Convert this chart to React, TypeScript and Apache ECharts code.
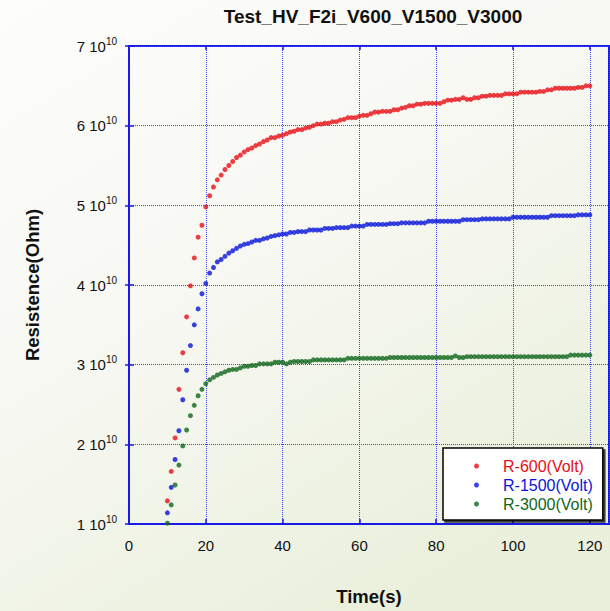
import React, { useEffect, useRef } from "react";
import * as echarts from "echarts";

const FONT = "'Liberation Sans', Arial, Helvetica, sans-serif";

const TITLE = "Test_HV_F2i_V600_V1500_V3000";
const X_NAME = "Time(s)";
const Y_NAME = "Resistence(Ohm)";
const SERIES_NAMES = ["R-600(Volt)", "R-1500(Volt)", "R-3000(Volt)"];
const SERIES_COLORS = ["#e60f16", "#0814d8", "#0f671c"];

// time in seconds
const TIME = [
  10, 11, 12, 13, 14, 15, 16, 17, 18, 19,
  20, 21, 22, 23, 24, 25, 26, 27, 28, 29,
  30, 31, 32, 33, 34, 35, 36, 37, 38, 39,
  40, 41, 42, 43, 44, 45, 46, 47, 48, 49,
  50, 51, 52, 53, 54, 55, 56, 57, 58, 59,
  60, 61, 62, 63, 64, 65, 66, 67, 68, 69,
  70, 71, 72, 73, 74, 75, 76, 77, 78, 79,
  80, 81, 82, 83, 84, 85, 86, 87, 88, 89,
  90, 91, 92, 93, 94, 95, 96, 97, 98, 99,
  100, 101, 102, 103, 104, 105, 106, 107, 108, 109, 110,
  111, 112, 113, 114, 115, 116, 117, 118, 119, 120,
];

// resistance in units of 1e10 Ohm
const R600 = [
  1.29, 1.66, 2.08, 2.69, 3.15, 3.60, 3.99, 4.34, 4.60, 4.75,
  4.98, 5.12, 5.23, 5.32, 5.38, 5.45, 5.50, 5.55, 5.60, 5.63,
  5.67, 5.70, 5.72, 5.75, 5.77, 5.80, 5.82, 5.85, 5.85, 5.87,
  5.88, 5.90, 5.92, 5.93, 5.95, 5.95, 5.97, 5.98, 6.00, 6.02,
  6.02, 6.03, 6.03, 6.05, 6.05, 6.07, 6.08, 6.10, 6.10, 6.10,
  6.12, 6.13, 6.13, 6.15, 6.17, 6.17, 6.18, 6.18, 6.18, 6.20,
  6.20, 6.22, 6.23, 6.25, 6.25, 6.27, 6.27, 6.28, 6.28, 6.28,
  6.28, 6.28, 6.30, 6.32, 6.32, 6.33, 6.33, 6.35, 6.33, 6.33,
  6.35, 6.35, 6.37, 6.37, 6.38, 6.38, 6.38, 6.38, 6.40, 6.40,
  6.40, 6.40, 6.42, 6.42, 6.42, 6.42, 6.42, 6.43, 6.43, 6.45,
  6.45, 6.47, 6.47, 6.47, 6.47, 6.47, 6.47, 6.48, 6.48, 6.50, 6.50,
];

const R1500 = [
  1.14, 1.46, 1.81, 2.17, 2.56, 2.93, 3.24, 3.50, 3.70, 3.89,
  4.02, 4.15, 4.22, 4.29, 4.32, 4.36, 4.40, 4.43, 4.46, 4.49,
  4.51, 4.52, 4.54, 4.56, 4.56, 4.58, 4.59, 4.61, 4.62, 4.63,
  4.64, 4.64, 4.66, 4.66, 4.67, 4.67, 4.67, 4.69, 4.69, 4.69,
  4.69, 4.71, 4.71, 4.71, 4.72, 4.72, 4.72, 4.72, 4.74, 4.74,
  4.74, 4.74, 4.76, 4.76, 4.76, 4.76, 4.76, 4.76, 4.77, 4.77,
  4.77, 4.78, 4.78, 4.78, 4.78, 4.78, 4.78, 4.78, 4.80, 4.80,
  4.80, 4.80, 4.80, 4.80, 4.80, 4.80, 4.80, 4.82, 4.82, 4.82,
  4.82, 4.82, 4.83, 4.83, 4.83, 4.83, 4.83, 4.83, 4.83, 4.83,
  4.85, 4.85, 4.85, 4.85, 4.85, 4.85, 4.85, 4.85, 4.85, 4.85,
  4.87, 4.87, 4.87, 4.87, 4.87, 4.87, 4.87, 4.88, 4.88, 4.88, 4.88,
];

const R3000 = [
  1.01, 1.24, 1.49, 1.74, 1.98, 2.18, 2.36, 2.49, 2.61, 2.69,
  2.76, 2.81, 2.84, 2.87, 2.89, 2.91, 2.93, 2.94, 2.94, 2.96,
  2.98, 2.98, 2.99, 2.99, 3.01, 3.01, 3.01, 3.01, 3.03, 3.03,
  3.03, 3.01, 3.03, 3.04, 3.04, 3.04, 3.04, 3.04, 3.06, 3.06,
  3.06, 3.06, 3.06, 3.06, 3.06, 3.06, 3.06, 3.08, 3.08, 3.08,
  3.08, 3.08, 3.08, 3.08, 3.08, 3.08, 3.08, 3.08, 3.09, 3.09,
  3.09, 3.09, 3.09, 3.09, 3.09, 3.09, 3.09, 3.09, 3.09, 3.09,
  3.09, 3.09, 3.09, 3.09, 3.09, 3.11, 3.09, 3.09, 3.10, 3.10,
  3.10, 3.10, 3.10, 3.10, 3.10, 3.10, 3.10, 3.10, 3.10, 3.10,
  3.10, 3.10, 3.10, 3.10, 3.10, 3.10, 3.10, 3.10, 3.10, 3.10,
  3.10, 3.10, 3.10, 3.10, 3.10, 3.12, 3.12, 3.12, 3.12, 3.12, 3.12,
];

const SERIES_VALUES = [R600, R1500, R3000];

const X_MIN = 0;
const X_MAX = 125;
const X_STEP = 20;
const Y_MIN = 1;
const Y_MAX = 7;
const Y_STEP = 1;

const AXIS_BLUE = "#1a1ae6";
const GRID_BLUE = "#3a46f0";

export default function App() {
  const ref = useRef<HTMLDivElement>(null);

  useEffect(() => {
    if (!ref.current) return;
    const chart = echarts.init(ref.current, null, { renderer: "svg" });

    const series = SERIES_NAMES.map((name, k) => ({
      name,
      type: "scatter",
      xAxisIndex: 0,
      yAxisIndex: 0,
      symbol: "circle",
      symbolSize: 5,
      itemStyle: { color: SERIES_COLORS[k] },
      data: TIME.map((t, i) => [t, SERIES_VALUES[k][i]]),
    }));

    const baseX = {
      type: "value",
      min: X_MIN,
      max: X_MAX,
      interval: X_STEP,
    };
    const baseY = {
      type: "value",
      min: Y_MIN,
      max: Y_MAX,
      interval: Y_STEP,
    };

    const boldName = {
      fontFamily: FONT,
      fontSize: 18.5,
      fontWeight: "bold",
      color: "#111",
    };

    const option = {
      animation: false,
      backgroundColor: new echarts.graphic.LinearGradient(0, 0, 0.6, 1, [
        { offset: 0, color: "#fdfdfc" },
        { offset: 0.5, color: "#f7f8f2" },
        { offset: 1, color: "#eaf0dc" },
      ]),
      title: {
        text: TITLE,
        left: 368,
        top: 2,
        textAlign: "center",
        textStyle: { ...boldName, fontSize: 19 },
      },
      grid: {
        left: 129,
        top: 46,
        right: 1,
        bottom: 85,
        show: true,
        borderColor: AXIS_BLUE,
        borderWidth: 2,
        backgroundColor: "transparent",
      },
      legend: {
        orient: "vertical",
        left: 443,
        top: 448,
        padding: [10, 10, 8, 31],
        itemWidth: 5,
        itemHeight: 5,
        itemGap: 3,
        icon: "circle",
        backgroundColor: "#ffffff",
        borderColor: "#000000",
        borderWidth: 1.5,
        shadowColor: "rgba(0,0,0,0.75)",
        shadowOffsetX: 2,
        shadowOffsetY: 2,
        shadowBlur: 0,
        textStyle: { fontFamily: FONT, fontSize: 16, padding: [0, 0, 0, 19] },
        data: SERIES_NAMES.map((name, k) => ({
          name,
          textStyle: { color: SERIES_COLORS[k] },
        })),
      },
      xAxis: [
        {
          ...baseX,
          position: "bottom",
          name: X_NAME,
          nameLocation: "middle",
          nameGap: 63,
          nameTextStyle: boldName,
          axisLine: { show: true, lineStyle: { color: AXIS_BLUE, width: 2 } },
          axisTick: {
            show: true,
            inside: true,
            length: 5,
            lineStyle: { color: AXIS_BLUE, width: 1.5 },
          },
          axisLabel: {
            show: true,
            margin: 14,
            showMaxLabel: false,
            fontFamily: FONT,
            fontSize: 15,
            color: "#111",
          },
          splitLine: {
            show: true,
            lineStyle: { color: GRID_BLUE, width: 1, type: [1, 1] },
          },
        },
        {
          ...baseX,
          position: "top",
          axisLine: { show: false },
          axisTick: {
            show: true,
            inside: true,
            length: 4,
            lineStyle: { color: AXIS_BLUE, width: 1.5 },
          },
          axisLabel: { show: false },
          splitLine: { show: false },
        },
      ],
      yAxis: [
        {
          ...baseY,
          position: "left",
          name: Y_NAME,
          nameLocation: "middle",
          nameGap: 87,
          nameRotate: 90,
          nameTextStyle: boldName,
          axisLine: { show: true, lineStyle: { color: AXIS_BLUE, width: 2 } },
          axisTick: {
            show: true,
            inside: true,
            length: 5,
            lineStyle: { color: AXIS_BLUE, width: 1.5 },
          },
          axisLabel: {
            show: true,
            margin: 12,
            formatter: (v: number) => `{a|${v} 10}{b|10}`,
            rich: {
              a: {
                fontFamily: FONT,
                fontSize: 15,
                lineHeight: 20,
                color: "#111",
              },
              b: {
                fontFamily: FONT,
                fontSize: 10,
                lineHeight: 12,
                verticalAlign: "top",
                color: "#111",
              },
            },
          },
          splitLine: {
            show: true,
            lineStyle: { color: GRID_BLUE, width: 1, type: [1, 1] },
          },
        },
        {
          ...baseY,
          position: "right",
          axisLine: { show: false },
          axisTick: {
            show: true,
            inside: true,
            length: 4,
            lineStyle: { color: AXIS_BLUE, width: 1.5 },
          },
          axisLabel: { show: false },
          splitLine: { show: false },
        },
      ],
      series,
    };

    chart.setOption(option as any);
    return () => {
      chart.dispose();
    };
  }, []);

  return (
    <div
      ref={ref}
      style={{ position: "fixed", left: 0, top: 0, width: 610, height: 611 }}
    />
  );
}
